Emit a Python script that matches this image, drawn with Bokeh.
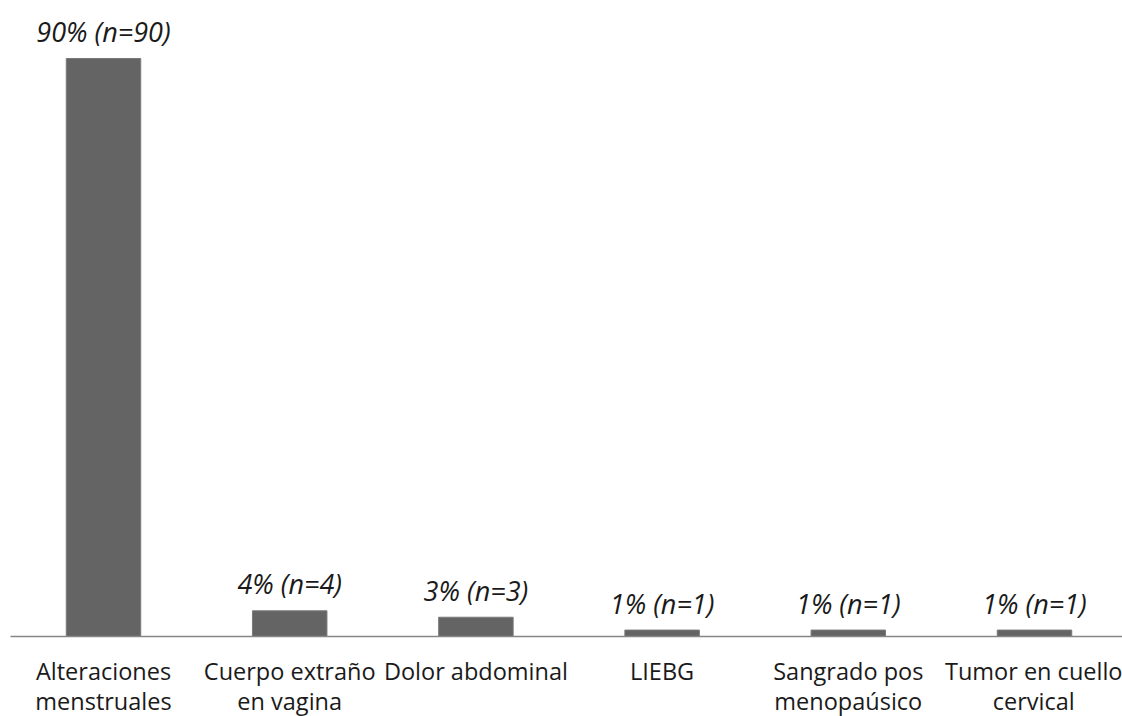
from bokeh.plotting import figure
from bokeh.models import ColumnDataSource, Range1d, FixedTicker
from bokeh.core.properties import value
from bokeh.embed import file_html
from bokeh.resources import INLINE

# Reasons for consultation: share of patients (%) and counts
categories = [
    "Alteraciones\nmenstruales",
    "Cuerpo extraño\nen vagina",
    "Dolor abdominal",
    "LIEBG",
    "Sangrado pos\nmenopaúsico",
    "Tumor en cuello\ncervical",
]
percent = [90, 4, 3, 1, 1, 1]
counts = [90, 4, 3, 1, 1, 1]

xs = list(range(len(categories)))
labels = [f"{p}% (n={n})" for p, n in zip(percent, counts)]

src = ColumnDataSource(dict(x=xs, top=percent, label=labels))

p = figure(
    frame_width=1112, frame_height=636,
    output_backend="svg", toolbar_location=None,
    x_range=Range1d(-0.4995, 5.4726), y_range=Range1d(0, 99.03),
    min_border_left=10, min_border_right=0, min_border_top=0, min_border_bottom=80,
)
p.outline_line_color = None
p.xgrid.visible = False
p.ygrid.visible = False
p.yaxis.visible = False

p.vbar(x="x", top="top", width=0.4, source=src,
       fill_color="#646464", line_color="#7a7a7a", line_width=1)

p.text(x="x", y="top", text="label", source=src,
       text_align="center", text_baseline="alphabetic", y_offset=-27,
       text_font=value("Open Sans"), text_font_style="italic",
       text_font_size="27px", text_color="#1a1a1a")

ax = p.xaxis[0]
ax.ticker = FixedTicker(ticks=xs)
ax.major_label_overrides = {i: c for i, c in enumerate(categories)}
ax.axis_line_color = "#868686"
ax.axis_line_width = 1.5
ax.major_tick_line_color = None
ax.minor_tick_line_color = None
ax.major_label_standoff = 12
ax.major_label_text_font = "Open Sans"
ax.major_label_text_font_size = "23.5px"
ax.major_label_text_color = "#1a1a1a"
ax.major_label_text_line_height = 0.95

open("out.html", "w").write(file_html(p, INLINE))
